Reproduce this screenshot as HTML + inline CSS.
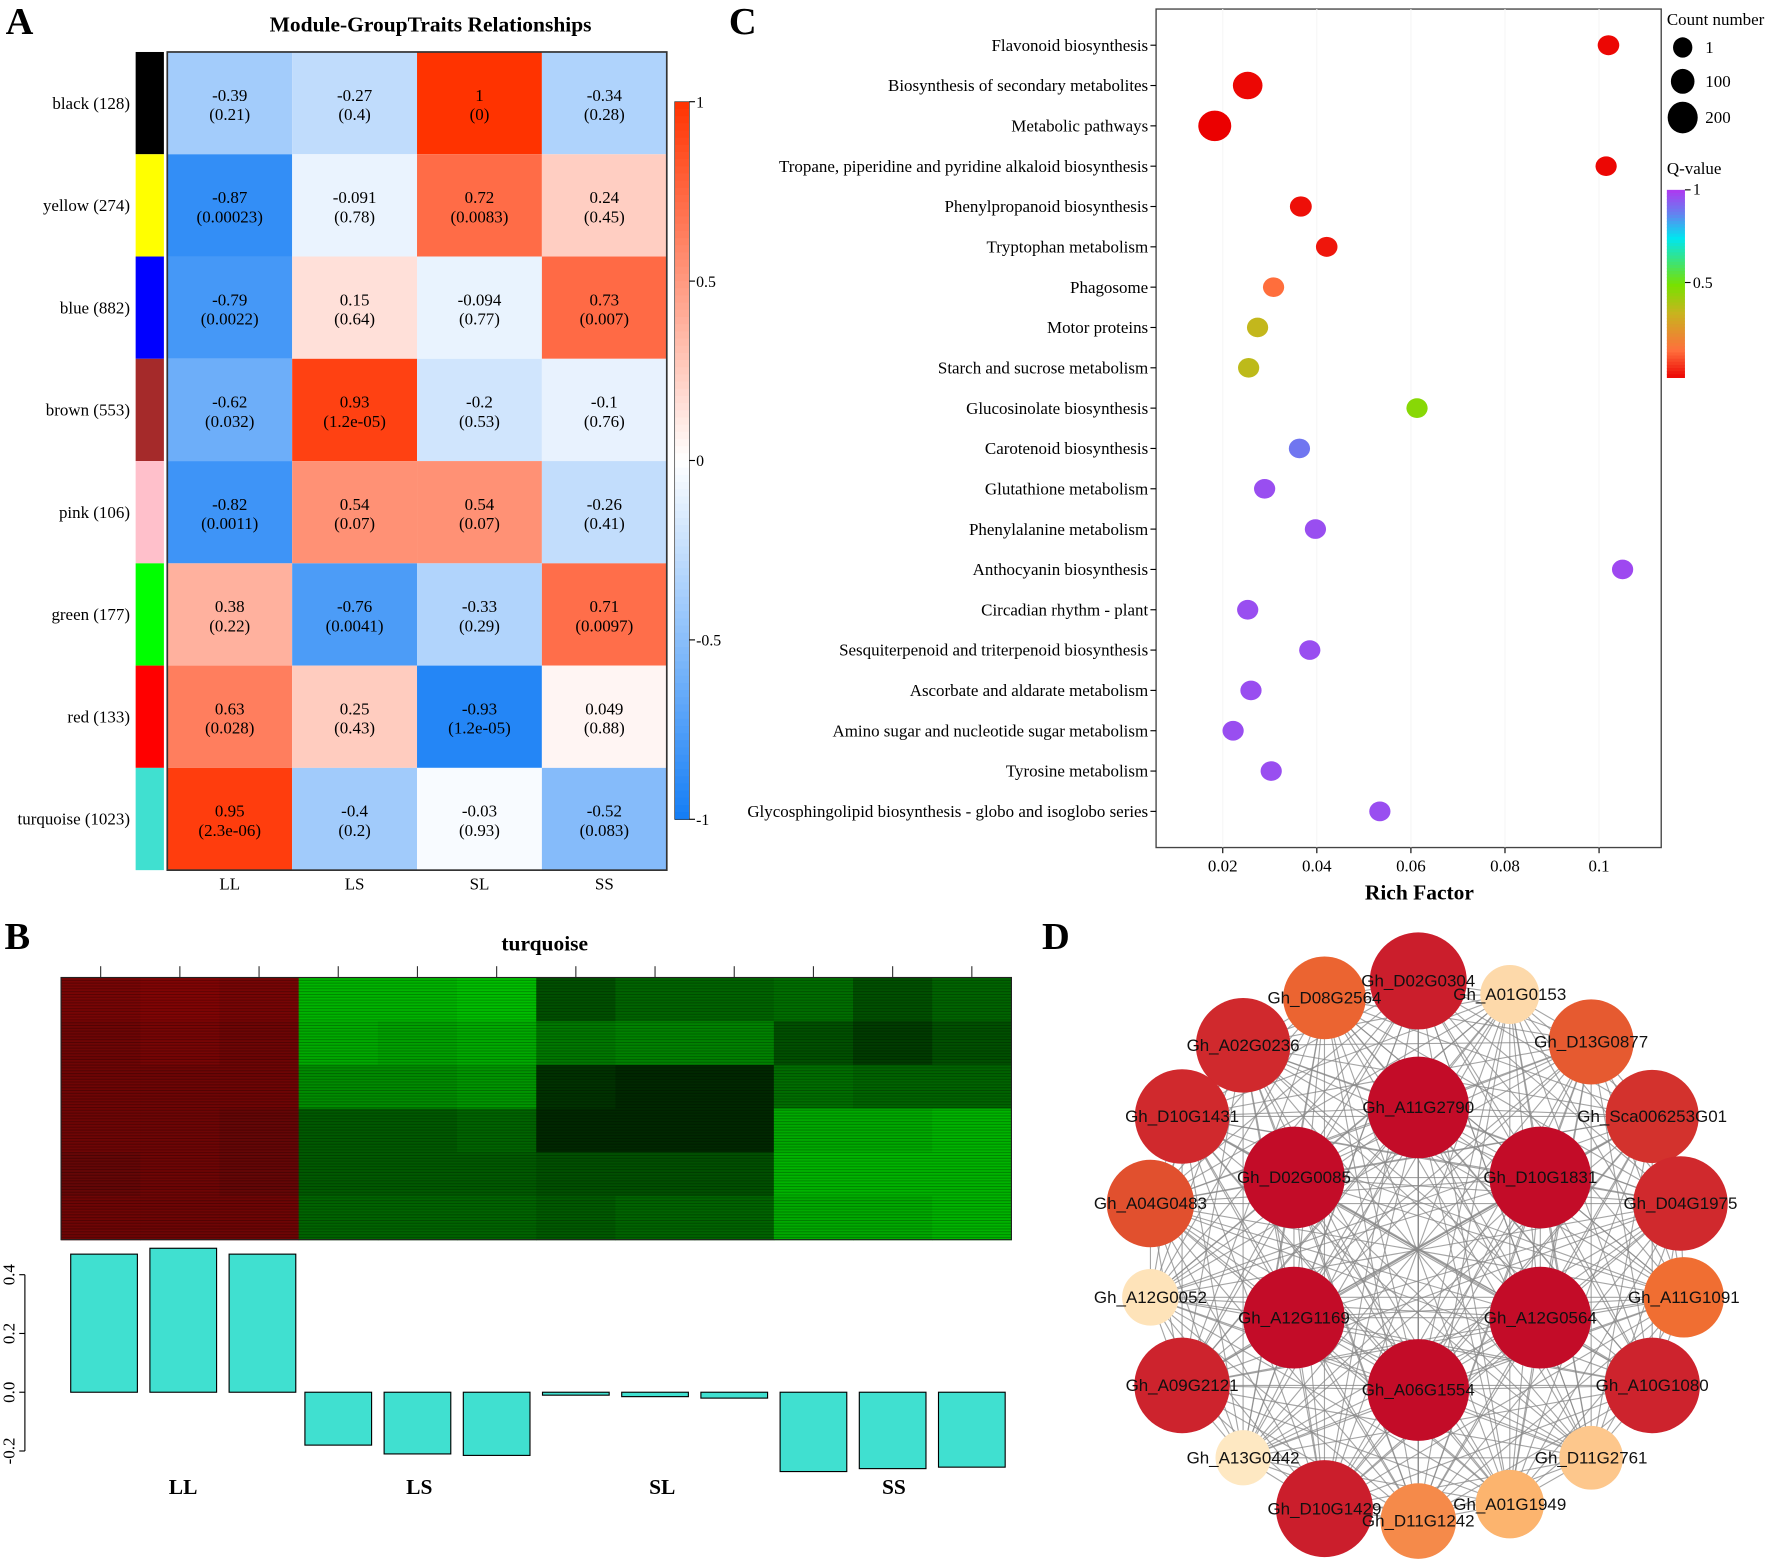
<!DOCTYPE html>
<html><head><meta charset="utf-8">
<style>
html,body{margin:0;padding:0;background:#fff;}
svg{display:block;}
.serif{font-family:"Liberation Serif",serif;}
.sans{font-family:"Liberation Sans",sans-serif;}
</style></head>
<body>
<svg id="root" width="1772" height="1564" viewBox="0 0 1568 1384" xmlns="http://www.w3.org/2000/svg">
<g id="pA"></g>
<g id="pC"></g>
<g id="pB"></g>
<g id="pD"></g>
</svg>
<script>
// ---------- Panel A data ----------
const modules = ["black (128)","yellow (274)","blue (882)","brown (553)","pink (106)","green (177)","red (133)","turquoise (1023)"];
const moduleColors = ["#000000","#ffff00","#0000ff","#a52a2a","#ffc0cb","#00ff00","#ff0000","#40e0d0"];
const traits = ["LL","LS","SL","SS"];
const corrValues = [
 [-0.39,-0.27,1,-0.34],
 [-0.87,-0.091,0.72,0.24],
 [-0.79,0.15,-0.094,0.73],
 [-0.62,0.93,-0.2,-0.1],
 [-0.82,0.54,0.54,-0.26],
 [0.38,-0.76,-0.33,0.71],
 [0.63,0.25,-0.93,0.049],
 [0.95,-0.4,-0.03,-0.52]];
const pValues = [
 ["0.21","0.4","0","0.28"],
 ["0.00023","0.78","0.0083","0.45"],
 ["0.0022","0.64","0.77","0.007"],
 ["0.032","1.2e-05","0.53","0.76"],
 ["0.0011","0.07","0.07","0.41"],
 ["0.22","0.0041","0.29","0.0097"],
 ["0.028","0.43","1.2e-05","0.88"],
 ["2.3e-06","0.2","0.93","0.083"]];
const corrTicks = [1,0.5,0,-0.5,-1];

// ---------- Panel C data ----------
const pathways = ["Flavonoid biosynthesis","Biosynthesis of secondary metabolites","Metabolic pathways","Tropane, piperidine and pyridine alkaloid biosynthesis","Phenylpropanoid biosynthesis","Tryptophan metabolism","Phagosome","Motor proteins","Starch and sucrose metabolism","Glucosinolate biosynthesis","Carotenoid biosynthesis","Glutathione metabolism","Phenylalanine metabolism","Anthocyanin biosynthesis","Circadian rhythm - plant","Sesquiterpenoid and triterpenoid biosynthesis","Ascorbate and aldarate metabolism","Amino sugar and nucleotide sugar metabolism","Tyrosine metabolism","Glycosphingolipid biosynthesis - globo and isoglobo series"];
const richFactor = [0.102,0.0253,0.0183,0.1015,0.0366,0.0421,0.0308,0.0274,0.0255,0.0613,0.0363,0.0289,0.0397,0.105,0.0253,0.0385,0.026,0.0222,0.0303,0.0534];
const qValue = [0.01,0.01,0.0,0.01,0.02,0.03,0.15,0.36,0.37,0.47,0.9,0.97,0.97,0.98,0.97,0.97,0.97,0.97,0.97,0.97];
const countNum = [10,120,200,8,12,10,8,8,8,8,8,8,8,8,8,8,8,8,8,8];
const richTicks = [0.02,0.04,0.06,0.08,0.1];

// ---------- Panel B data ----------
const bSamples = ["LL1","LL2","LL3","LS1","LS2","LS3","SL1","SL2","SL3","SS1","SS2","SS3"];
const eigenValues = [0.47,0.49,0.47,-0.18,-0.21,-0.215,-0.01,-0.015,-0.02,-0.27,-0.26,-0.255];
const bGroups = ["LL","LS","SL","SS"];
const bTicks = [0.4,0.2,0.0,-0.2];
const bandLevels = [
 [0.55,0.5,0.5,0.5,0.45,0.5],[0.6,0.55,0.5,0.5,0.5,0.5],[0.55,0.5,0.5,0.45,0.45,0.5],
 [-0.8,-0.75,-0.6,-0.35,-0.35,-0.4],[-0.8,-0.7,-0.6,-0.35,-0.35,-0.4],[-0.85,-0.75,-0.65,-0.4,-0.35,-0.4],
 [-0.3,-0.5,-0.15,-0.1,-0.3,-0.35],[-0.4,-0.55,-0.1,-0.1,-0.3,-0.4],[-0.4,-0.55,-0.1,-0.1,-0.3,-0.4],
 [-0.45,-0.3,-0.45,-0.75,-0.8,-0.75],[-0.3,-0.2,-0.4,-0.75,-0.8,-0.75],[-0.4,-0.3,-0.4,-0.8,-0.8,-0.8]];

// ---------- Panel D data ----------
const nodeNames = ["Gh_D02G0304","Gh_D08G2564","Gh_A01G0153","Gh_A02G0236","Gh_D13G0877","Gh_A11G2790","Gh_D10G1431","Gh_Sca006253G01","Gh_D02G0085","Gh_D10G1831","Gh_A04G0483","Gh_D04G1975","Gh_A12G0052","Gh_A11G1091","Gh_A12G1169","Gh_A12G0564","Gh_A09G2121","Gh_A10G1080","Gh_A06G1554","Gh_A13G0442","Gh_D11G2761","Gh_D10G1429","Gh_D11G1242","Gh_A01G1949"];
const nodeDegree = [0.9,0.6,0.1,0.85,0.65,1,0.85,0.82,1,1,0.7,0.85,0.05,0.55,1,1,0.87,0.87,1,0.02,0.2,0.9,0.45,0.3];
const nodePos = [[1255,868],[1172,883],[1336,880],[1100,925],[1408,922],[1255,980],[1046,988],[1462,988],[1145,1042],[1363,1042],[1018,1065],[1487,1065],[1018,1148],[1490,1148],[1145,1166],[1363,1166],[1046,1226],[1462,1226],[1255,1230],[1100,1290],[1408,1290],[1172,1335],[1255,1346],[1336,1331]];

const NS="http://www.w3.org/2000/svg";
function mk(tag,attrs,parent,txt){const e=document.createElementNS(NS,tag);for(const k in attrs)e.setAttribute(k,attrs[k]);if(txt!==undefined)e.textContent=txt;parent.appendChild(e);return e;}
function lerp(a,b,t){return Math.round(a+(b-a)*t);}
function corrColor(v){
  if(v>=0){return `rgb(255,${lerp(255,51,v)},${lerp(255,0,v)})`;}
  const t=-v;return `rgb(${lerp(255,20,t)},${lerp(255,125,t)},${lerp(255,245,t)})`;
}
// ---------- Panel A ----------
const A=document.getElementById('pA');
mk('text',{x:5,y:30,'font-size':34,'font-weight':'bold',class:'serif',},A,'A');
mk('text',{x:381,y:28,'font-size':19,'font-weight':'bold','text-anchor':'middle',class:'serif',},A,'Module-GroupTraits Relationships');
const hx0=148,hy0=46,cw=110.5,rh=90.5;
modules.forEach((m,i)=>{
  const y=hy0+i*rh;
  const sw=mk('rect',{x:120,y:y,width:25,height:rh,fill:moduleColors[i]},A);
  
  
  const lb=mk('text',{x:115,y:y+rh/2+5,'font-size':15,'text-anchor':'end',class:'serif'},A,m);
  
  
  traits.forEach((t,j)=>{
    const x=hx0+j*cw,v=corrValues[i][j];
    const c=mk('rect',{x:x,y:y,width:cw,height:rh,fill:corrColor(v)},A);
    
    
    const tx=mk('text',{x:x+cw/2,y:y+rh/2-2,'font-size':15,'text-anchor':'middle',class:'serif'},A,String(v));
    
    
    const tp=mk('text',{x:x+cw/2,y:y+rh/2+15,'font-size':15,'text-anchor':'middle',class:'serif'},A,'('+pValues[i][j]+')');
    
    
  });
});
mk('rect',{x:hx0,y:hy0,width:cw*4,height:rh*8,fill:'none',stroke:'#333','stroke-width':1.5},A);
traits.forEach((t,j)=>{
  const e=mk('text',{x:hx0+j*cw+cw/2,y:787,'font-size':15,'text-anchor':'middle',class:'serif'},A,t);
  
  
});
const cbTop=90,cbBot=725,cbx=597;
function cbY(v){return cbTop+(1-v)/2*(cbBot-cbTop);}
for(let k=0;k<100;k++){
  const v=1-k/50; const y=cbY(v);
  mk('rect',{x:cbx,y:y,width:13,height:(cbBot-cbTop)/100+0.6,fill:corrColor(v-0.01)},A);
}
mk('rect',{x:cbx,y:cbTop,width:13,height:cbBot-cbTop,fill:'none',stroke:'#333','stroke-width':0.6,},A);
corrTicks.forEach(v=>{
  const y=cbY(v);
  mk('line',{x1:cbx+13,x2:cbx+18,y1:y,y2:y,stroke:'#000'},A);
  const e=mk('text',{x:cbx+19,y:y+5,'font-size':14,class:'serif'},A,String(v));
  
  
});

// ---------- Panel C ----------
const C=document.getElementById('pC');
mk('text',{x:645,y:30,'font-size':34,'font-weight':'bold',class:'serif',},C,'C');
const px0=1023,px1=1470,py0=8,py1=750;
function rx(v){return 1082+(v-0.02)*(333/0.08);}
function ry(i){return 40+i*(678/19);}
mk('rect',{x:px0,y:py0,width:px1-px0,height:py1-py0,fill:'none',stroke:'#444','stroke-width':1.2,},C);
richTicks.forEach(v=>{
  const x=rx(v);
  mk('line',{x1:x,x2:x,y1:py0,y2:py1,stroke:'#f6f6f6'},C);
  mk('line',{x1:x,x2:x,y1:py1,y2:py1+5,stroke:'#000'},C);
  const e=mk('text',{x:x,y:py1+21,'font-size':15,'text-anchor':'middle',class:'serif'},C,String(v));
  
  
});
mk('text',{x:1256,y:796,'font-size':19,'font-weight':'bold','text-anchor':'middle',class:'serif',},C,'Rich Factor');
function qColor(q){
  const stops=[[0,[235,0,0]],[0.15,[255,110,60]],[0.35,[200,180,30]],[0.5,[120,225,0]],[0.75,[0,230,240]],[0.88,[100,130,240]],[1,[170,60,240]]];
  for(let k=1;k<stops.length;k++){if(q<=stops[k][0]){const a=stops[k-1],b=stops[k],t=(q-a[0])/(b[0]-a[0]);return `rgb(${lerp(a[1][0],b[1][0],t)},${lerp(a[1][1],b[1][1],t)},${lerp(a[1][2],b[1][2],t)})`;}}
  return 'rgb(170,60,240)';
}
function rad(n){return 7.5+Math.sqrt(n/200)*6;}
pathways.forEach((p,i)=>{
  const y=ry(i);
  mk('line',{x1:px0-5,x2:px0,y1:y,y2:y,stroke:'#000'},C);
  const t=mk('text',{x:px0-7,y:y+5,'font-size':15,'text-anchor':'end',class:'serif'},C,p);
  
  
  const r=rad(countNum[i]);
  const c=mk('ellipse',{cx:rx(richFactor[i]),cy:y,rx:r*1.08,ry:r,fill:qColor(qValue[i])},C);
  
  
});
mk('text',{x:1475,y:22,'font-size':15,class:'serif',},C,'Count number');
[[1,42,9],[100,72,11],[200,104,14]].forEach(d=>{
  mk('ellipse',{cx:1489,cy:d[1],rx:d[2]*0.95,ry:d[2],fill:'#000'},C);
  const t=mk('text',{x:1509,y:d[1]+5,'font-size':15,class:'serif'},C,String(d[0]));
  
  
});
mk('text',{x:1475,y:154,'font-size':15,class:'serif',},C,'Q-value');
for(let k=0;k<60;k++){const q=1-k/60;mk('rect',{x:1475,y:168+k*(166/60),width:16,height:166/60+0.5,fill:qColor(q)},C);}
mk('line',{x1:1491,x2:1496,y1:168,y2:168,stroke:'#000'},C);
mk('text',{x:1498,y:172,'font-size':14,class:'serif'},C,'1');
mk('line',{x1:1491,x2:1496,y1:250,y2:250,stroke:'#000'},C);
mk('text',{x:1498,y:255,'font-size':14,class:'serif'},C,'0.5');

// ---------- Panel B ----------
const B=document.getElementById('pB');
mk('text',{x:4,y:840,'font-size':34,'font-weight':'bold',class:'serif',},B,'B');
mk('text',{x:482,y:841,'font-size':19,'font-weight':'bold','text-anchor':'middle',class:'serif',},B,'turquoise');
const bx0=54,bx1=895,bw=(bx1-bx0)/12,by0=865,by1=1097;
function exprColor(v){return v>=0?`rgb(${lerp(20,200,v)},${lerp(10,0,v)},${lerp(10,0,v)})`:`rgb(0,${lerp(20,220,-v)},0)`;}
bSamples.forEach((s,j)=>{
  const x=bx0+j*bw,bh=(by1-by0)/6;
  bandLevels[j].forEach((v,k)=>{
    const r=mk('rect',{x:x,y:by0+k*bh,width:bw+0.5,height:bh+0.5,fill:exprColor(v)},B);
    
    
  });
  const cx=x+bw/2;
  mk('line',{x1:cx,x2:cx,y1:by0-10,y2:by0,stroke:'#333'},B);
});
for(let y=by0;y<by1;y+=2.5){mk('line',{x1:bx0,x2:bx1,y1:y,y2:y,stroke:'rgba(0,0,0,0.25)','stroke-width':0.9},B);}
mk('rect',{x:bx0,y:by0,width:bx1-bx0,height:by1-by0,fill:'none',stroke:'#222'},B);
const zeroY=1232;
function by(v){return zeroY-v*260;}
mk('line',{x1:22,x2:22,y1:by(0.4),y2:by(-0.2),stroke:'#000'},B);
bTicks.forEach(v=>{
  const y=by(v);
  mk('line',{x1:17,x2:22,y1:y,y2:y,stroke:'#000'},B);
  const t=mk('text',{x:13,y:y,'font-size':15,'text-anchor':'middle',class:'serif',transform:`rotate(-90 13 ${y})`},B,v.toFixed(1));
  
  
});
eigenValues.forEach((v,j)=>{
  const cx=bx0+j*bw+bw/2+(j<3?3:0);
  const y=Math.min(by(v),zeroY),h=Math.abs(by(v)-zeroY);
  const r=mk('rect',{x:cx-29.5,y:y,width:59,height:Math.max(h,2),fill:'#40e0d0',stroke:'#000','stroke-width':1},B);
  
  
});
bGroups.forEach((g,k)=>{
  const x=[162,371,586,791][k];
  const t=mk('text',{x:x,y:1322,'font-size':19,'font-weight':'bold','text-anchor':'middle',class:'serif'},B,g);
  
  
});

// ---------- Panel D ----------
const D=document.getElementById('pD');
mk('text',{x:922,y:840,'font-size':34,'font-weight':'bold',class:'serif',},D,'D');
const eg=mk('g',{},D);
for(let a=0;a<nodePos.length;a++)for(let b=a+1;b<nodePos.length;b++){
  mk('line',{x1:nodePos[a][0],y1:nodePos[a][1],x2:nodePos[b][0],y2:nodePos[b][1],stroke:'#888','stroke-width':1,opacity:0.75},eg);
}
function nodeColor(d){
  const stops=[[0,[254,236,200]],[0.3,[252,180,110]],[0.55,[240,110,50]],[0.75,[220,70,45]],[0.87,[205,35,45]],[1,[195,12,40]]];
  for(let k=1;k<stops.length;k++){if(d<=stops[k][0]){const a=stops[k-1],b=stops[k],t=(d-a[0])/(b[0]-a[0]);return `rgb(${lerp(a[1][0],b[1][0],t)},${lerp(a[1][1],b[1][1],t)},${lerp(a[1][2],b[1][2],t)})`;}}
  return 'rgb(195,12,40)';
}
nodeNames.forEach((n,i)=>{
  const d=nodeDegree[i],r=24+d*21;
  const c=mk('circle',{cx:nodePos[i][0],cy:nodePos[i][1],r:r,fill:nodeColor(d)},D);
  
  
});
nodeNames.forEach((n,i)=>{
  const t=mk('text',{x:nodePos[i][0],y:nodePos[i][1]+5,'font-size':15,'text-anchor':'middle',class:'sans',fill:'#111'},D,n);
  
  
});
</script>
</body></html>
